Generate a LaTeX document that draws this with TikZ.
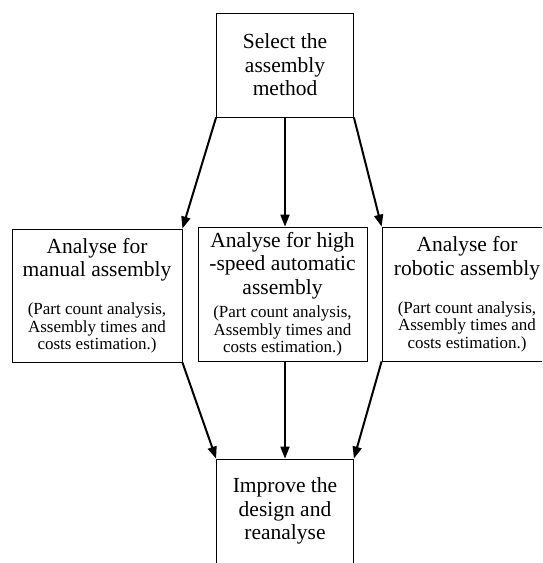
\documentclass[tikz,border=0pt]{standalone}
\usepackage{fontspec}
\setmainfont{Liberation Serif}
\usetikzlibrary{arrows.meta}

\newcommand{\titlefont}{\fontsize{21.5}{23.5}\selectfont}
\newcommand{\notefont}{\fontsize{17}{17.5}\selectfont}

\begin{document}
\begin{tikzpicture}[x=1pt,y=-1pt,
  stagebox/.style={draw, line width=0.8pt, align=center, inner sep=0pt, font=\titlefont},
  flow/.style={line width=2pt, -{Triangle[length=12pt,width=9pt]}}]

\useasboundingbox (0,0) rectangle (542,563);
\clip (0,0) rectangle (542,563);

% Start
\node[stagebox, minimum width=137pt, minimum height=104pt] (select) at (285,65)
  {Select the\\ assembly\\ method};

% Three ways to analyse
\node[stagebox, minimum width=170pt, minimum height=133pt] (manual) at (97,295.5)
  {Analyse for\\ manual assembly\\[14.5pt]
   \notefont (Part count analysis,\\[-6pt] \notefont Assembly times and\\[-6pt] \notefont costs estimation.)};
\node[stagebox, minimum width=169pt, minimum height=134pt] (highspeed) at (282.5,294)
  {Analyse for high\\ -speed automatic\\ assembly\\[0pt]
   \notefont (Part count analysis,\\[-6pt] \notefont Assembly times and\\[-6pt] \notefont costs estimation.)};
\node[stagebox, minimum width=170pt, minimum height=134pt] (robotic) at (467,294)
  {Analyse for\\ robotic assembly\\[14.5pt]
   \notefont (Part count analysis,\\[-6pt] \notefont Assembly times and\\[-6pt] \notefont costs estimation.)};

% End
\node[stagebox, minimum width=137pt, minimum height=104pt] (improve) at (285,511)
  {Improve the\\ design and\\ reanalyse};

% Arrows down
\draw[flow] (select.south west) -- (manual.north east);
\draw[flow] (select.south) -- (select.south |- highspeed.north);
\draw[flow] (select.south east) -- (robotic.north west);

\draw[flow] (manual.south east) -- (improve.north west);
\draw[flow] (improve.north |- highspeed.south) -- (improve.north);
\draw[flow] (robotic.south west) -- (improve.north east);

\end{tikzpicture}
\end{document}
